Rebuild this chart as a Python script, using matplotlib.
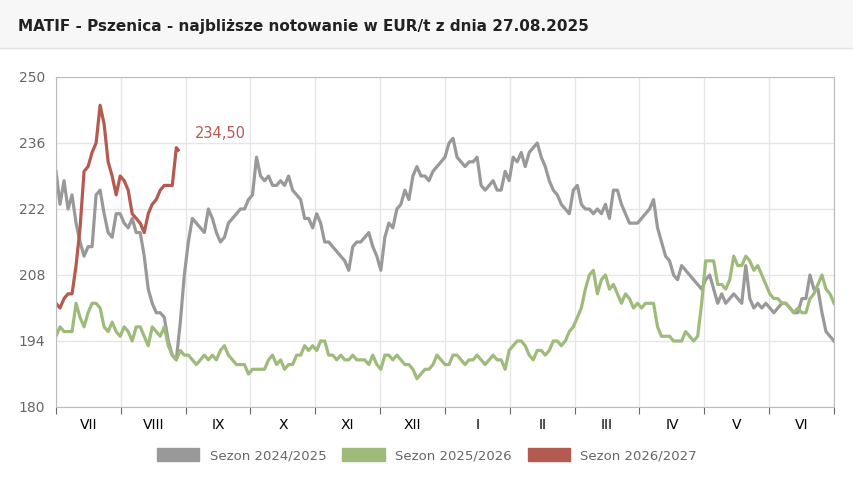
import numpy as np
import matplotlib.pyplot as plt
from matplotlib.patches import Rectangle, Patch

months = ['VII', 'VIII', 'IX', 'X', 'XI', 'XII', 'I', 'II', 'III', 'IV', 'V', 'VI']
yticks = [180, 194, 208, 222, 236, 250]

s2425 = [230, 223, 228, 222, 225, 219, 215, 212, 214, 214, 225, 226, 221, 217, 216, 221, 221, 219, 218, 220,
         217, 217, 212, 205, 202, 200, 200, 199, 194, 191, 190, 198, 208, 215, 220, 219, 218, 217, 222, 220,
         217, 215, 216, 219, 220, 221, 222, 222, 224, 225, 233, 229, 228, 229, 227, 227, 228, 227, 229, 226,
         225, 224, 220, 220, 218, 221, 219, 215, 215, 214, 213, 212, 211, 209, 214, 215, 215, 216, 217, 214,
         212, 209, 216, 219, 218, 222, 223, 226, 224, 229, 231, 229, 229, 228, 230, 231, 232, 233, 236, 237,
         233, 232, 231, 232, 232, 233, 227, 226, 227, 228, 226, 226, 230, 228, 233, 232, 234, 231, 234, 235,
         236, 233, 231, 228, 226, 225, 223, 222, 221, 226, 227, 223, 222, 222, 221, 222, 221, 223, 220, 226,
         226, 223, 221, 219, 219, 219, 220, 221, 222, 224, 218, 215, 212, 211, 208, 207, 210, 209, 208, 207,
         206, 205, 207, 208, 205, 202, 204, 202, 203, 204, 203, 202, 210, 203, 201, 202, 201, 202, 201, 200,
         201, 202, 202, 201, 200, 200, 203, 203, 208, 205, 205, 200, 196, 195, 194]

s2526 = [195, 197, 196, 196, 196, 202, 199, 197, 200, 202, 202, 201, 197, 196, 198, 196, 195, 197, 196, 194,
         197, 197, 195, 193, 197, 196, 195, 197, 193, 191, 190, 192, 191, 191, 190, 189, 190, 191, 190, 191,
         190, 192, 193, 191, 190, 189, 189, 189, 187, 188, 188, 188, 188, 190, 191, 189, 190, 188, 189, 189,
         191, 191, 193, 192, 193, 192, 194, 194, 191, 191, 190, 191, 190, 190, 191, 190, 190, 190, 189, 191,
         189, 188, 191, 191, 190, 191, 190, 189, 189, 188, 186, 187, 188, 188, 189, 191, 190, 189, 189, 191,
         191, 190, 189, 190, 190, 191, 190, 189, 190, 191, 190, 190, 188, 192, 193, 194, 194, 193, 191, 190,
         192, 192, 191, 192, 194, 194, 193, 194, 196, 197, 199, 201, 205, 208, 209, 204, 207, 208, 205, 206,
         204, 202, 204, 203, 201, 202, 201, 202, 202, 202, 197, 195, 195, 195, 194, 194, 194, 196, 195, 194,
         195, 202, 211, 211, 211, 206, 206, 205, 207, 212, 210, 210, 212, 211, 209, 210, 208, 206, 204, 203,
         203, 202, 202, 201, 200, 201, 200, 200, 203, 204, 206, 208, 205, 204, 202]

s2627 = [202, 201, 203, 204, 204, 210, 218, 230, 231, 234, 236, 244, 240, 232, 229, 225, 229, 228, 226, 221,
         220, 219, 217, 221, 223, 224, 226, 227, 227, 227, 235, 234.5]
last_label = '234,50'

step = 12 / 194
fig = plt.figure(figsize=(8.54, 4.92), dpi=100)
fig.patches.append(Rectangle((0, 1 - 48 / 492), 1, 48 / 492, transform=fig.transFigure,
                             color='#f7f7f7', zorder=0))
fig.lines.append(plt.Line2D([0, 1], [1 - 48 / 492] * 2, transform=fig.transFigure, color='#e2e2e2', lw=1))
fig.text(18 / 854, 1 - 27 / 492, 'MATIF - Pszenica - najbliższe notowanie w EUR/t z dnia 27.08.2025',
         fontsize=11, fontweight='bold', color='#222222', va='center')

ax = fig.add_axes([56 / 854, 85 / 492, 778 / 854, 330 / 492])
ax.plot(np.arange(len(s2425)) * step, s2425, color='#999999', lw=2.3)
ax.plot(np.arange(len(s2526)) * step, s2526, color='#9fbb7a', lw=2.3)
x_red = np.arange(len(s2627)) * step
x_red[-1] = x_red[-2] + step / 2
ax.plot(x_red, s2627, color='#b55a50', lw=2.3)
ax.text(x_red[-1] + 0.25, 238, last_label, color='#b55a50', fontsize=10.5, va='center')

ax.set_xlim(0, 12)
ax.set_ylim(180, 250)
ax.set_yticks(yticks)
ax.set_xticks(range(13))
ax.set_xticklabels([])
ax.set_xticks(np.arange(12) + 0.5, minor=True)
ax.set_xticklabels(months, minor=True)
ax.tick_params(axis='x', which='minor', length=0, pad=8)
ax.tick_params(axis='x', which='major', length=5, color='#cccccc')
ax.tick_params(axis='y', length=0, pad=8)
ax.tick_params(labelsize=10, colors='#666666')
ax.grid(True, which='major', color='#e6e6e6', lw=1)
for s in ax.spines.values():
    s.set_color('#bbbbbb')

handles = [Patch(color=c, label=l) for c, l in
           [('#999999', 'Sezon 2024/2025'), ('#9fbb7a', 'Sezon 2025/2026'), ('#b55a50', 'Sezon 2026/2027')]]
fig.legend(handles=handles, loc='center', bbox_to_anchor=(0.5, 1 - 455 / 492), ncol=3, frameon=False,
           fontsize=9.5, handlelength=3.2, handleheight=1.2, columnspacing=1.2, labelcolor='#666666')
fig.savefig('out.png', dpi=100)
